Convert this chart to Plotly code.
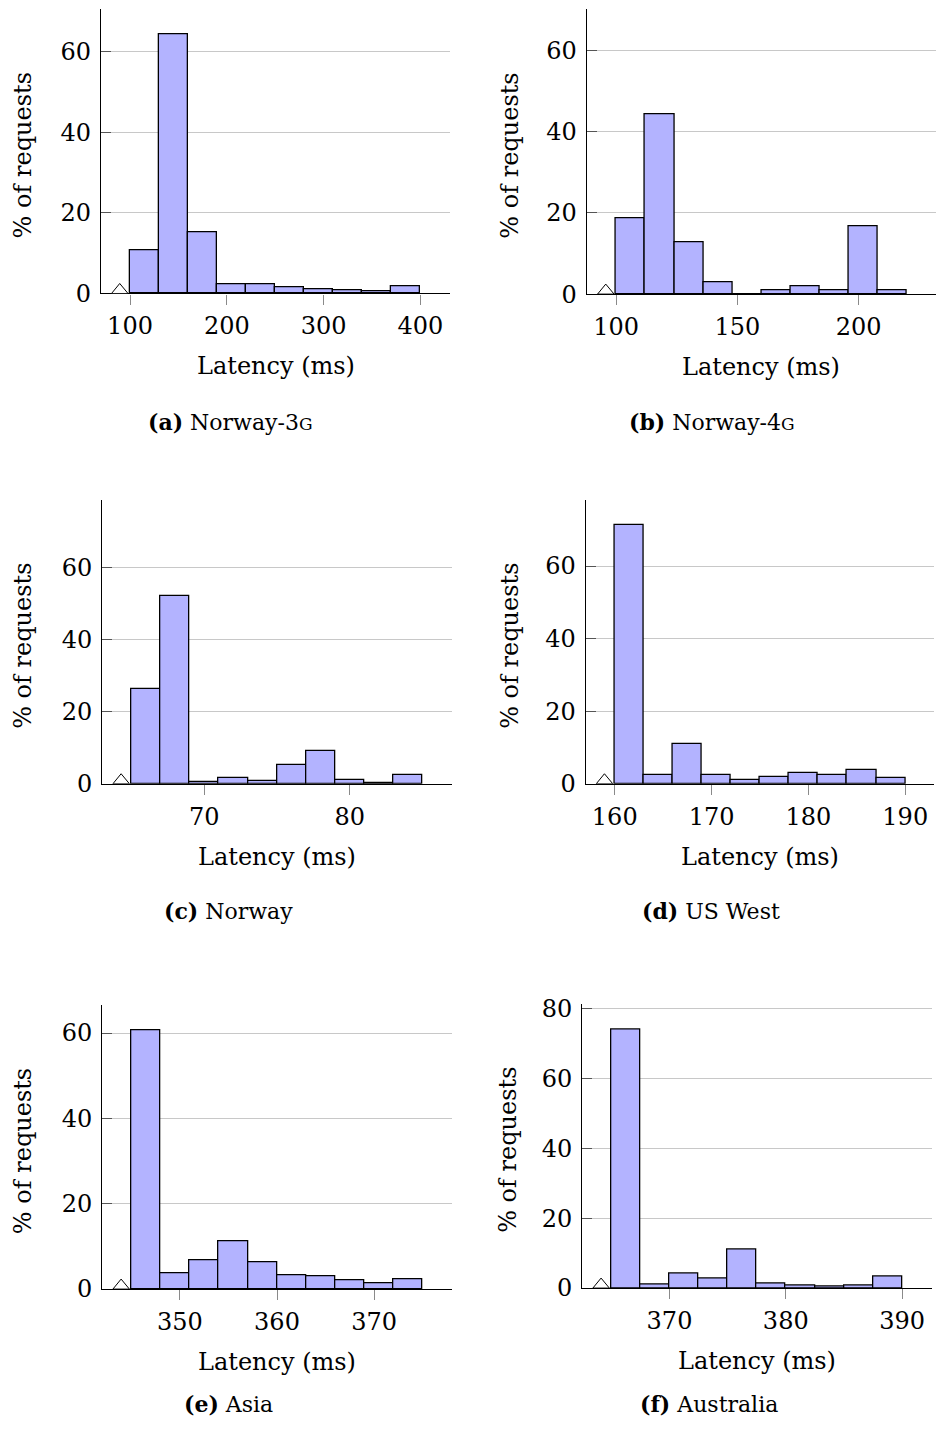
import numpy as np
import plotly.graph_objects as go

W, H = 938, 1431
FONT = "DejaVu Serif"

# ---- data (percent of requests per latency bin) ----
names = ["a", "b", "c", "d", "e", "f"]
captions = ["Norway-3G", "Norway-4G", "Norway", "US West", "Asia", "Australia"]
bin_start = [100, 100, 65, 160, 345, 365]
bin_width = [30, 12, 2, 3, 3, 2.5]
vals_a = [10.75, 64.3, 15.2, 2.4, 2.4, 1.66, 1.1, 0.84, 0.5, 1.74]
vals_b = [18.7, 44.2, 12.8, 2.95, 0, 1.0, 1.97, 1.0, 16.7, 1.0]
vals_c = [26.35, 52.2, 0.46, 1.55, 0.83, 5.35, 9.15, 1.1, 0.28, 2.58]
vals_d = [71.4, 2.48, 10.9, 2.3, 1.18, 1.83, 3.1, 2.48, 3.67, 1.73]
vals_e = [60.7, 3.8, 6.7, 11.2, 6.25, 3.2, 3.04, 2.03, 1.25, 2.27]
vals_f = [74.0, 1.14, 4.1, 2.77, 11.07, 1.34, 0.76, 0.38, 0.67, 3.24]
values = [vals_a, vals_b, vals_c, vals_d, vals_e, vals_f]
x_ticks = [[100, 200, 300, 400], [100, 150, 200], [70, 80],
           [160, 170, 180, 190], [350, 360, 370], [370, 380, 390]]
y_ticks = [[0, 20, 40, 60]] * 5 + [[0, 20, 40, 60, 80]]

# ---- layout ----
x_rng = [[70, 430.6], [87.9, 231.9], [63, 87], [157, 193], [342, 378], [362.5, 392.55]]
y_max = [70.5, 70.1, 78.8, 78.2, 66.5, 81.4]
# target positions in the photographed page (px): left, right, top, bottom
dom_px = [
    (101, 450, 8.3, 292.7),
    (586.7, 936, 8.3, 293.3),
    (102.3, 451.7, 499.3, 783.3),
    (585.7, 934.3, 499.3, 783.3),
    (102.3, 451.7, 1005, 1289),
    (582.3, 931.7, 1003.3, 1288),
]
ytitle_x = [23, 510, 23, 510, 23, 508]
caption_x = [230, 712, 228, 711, 228, 709]
caption_y = [421, 421, 911, 911, 1416.5, 1416.5]

# the photographed page shows the figure vertically at 8 .. 1417 px
PHOTO_TOP, PHOTO_H = 8.0, 1409.0


def py(y_img):
    """paper fraction for a target vertical position in the photo."""
    y_fig = (y_img - PHOTO_TOP) * H / PHOTO_H
    return 1 - y_fig / H


BAR_FILL = "#b3b3ff"

fig = go.Figure()
annotations = []
shapes = []

for i in range(6):
    k = "" if i == 0 else str(i + 1)
    xa, ya = "x" + k, "y" + k
    v = np.array(values[i])
    centers = bin_start[i] + bin_width[i] * (np.arange(len(v)) + 0.5)
    fig.add_trace(go.Bar(
        x=centers, y=v, width=bin_width[i], xaxis=xa, yaxis=ya,
        marker=dict(color=BAR_FILL, line=dict(color="black", width=1.3)),
        showlegend=False, hoverinfo="x+y",
    ))
    l, r, t, b = dom_px[i]
    fig.layout["xaxis" + k] = dict(
        domain=[l / W, r / W], range=x_rng[i], anchor=ya,
        tickvals=x_ticks[i], ticks="outside", ticklen=10, tickwidth=1,
        tickcolor="#8a8a8a", showgrid=False, zeroline=False,
        showline=True, linecolor="black", linewidth=1.3,
        tickfont=dict(family=FONT, size=24, color="black"),
        ticklabelstandoff=1,
    )
    fig.layout["yaxis" + k] = dict(
        domain=[max(py(b), 0), min(py(t), 1)], range=[0, y_max[i]], anchor=xa,
        tickvals=y_ticks[i], ticks="inside", ticklen=10, tickwidth=1,
        tickcolor="#555555", showgrid=True, gridcolor="#c8c8c8", gridwidth=1,
        zeroline=False, showline=True, linecolor="black", linewidth=1.3,
        tickfont=dict(family=FONT, size=24, color="black"),
        ticklabelstandoff=4,
    )
    # axis-break mark on the x axis, left of the first bin
    shapes.append(dict(
        type="path", xref=xa, yref=ya,
        xsizemode="pixel", ysizemode="pixel",
        xanchor=bin_start[i], yanchor=0,
        path="M -18.5,0 L -10.3,10 L -2,0 Z",
        fillcolor="white", line=dict(color="black", width=1), layer="above",
    ))
    annotations.append(dict(
        text="Latency (ms)", xref="paper", yref="paper",
        x=((l + r) / 2) / W, y=py(b + 73),
        showarrow=False, xanchor="center", yanchor="middle",
        font=dict(family=FONT, size=24, color="black"),
    ))
    annotations.append(dict(
        text="% of requests", xref="paper", yref="paper",
        x=ytitle_x[i] / W, y=py((t + b) / 2 + 4), textangle=-90,
        showarrow=False, xanchor="center", yanchor="middle",
        font=dict(family=FONT, size=24, color="black"),
    ))
    cap = captions[i]
    if cap.endswith("G") and "-" in cap:
        cap_html = cap[:-1] + "<span style='font-size:17px'>G</span>"
    else:
        cap_html = cap
    # keep the bottom captions fully inside the page
    cap_p = max(py(caption_y[i]), 13.0 / H)
    annotations.append(dict(
        text="<b>(" + names[i] + ")</b> " + cap_html,
        xref="paper", yref="paper",
        x=caption_x[i] / W, y=cap_p,
        showarrow=False, xanchor="center", yanchor="middle",
        font=dict(family=FONT, size=22, color="black"),
    ))

fig.update_layout(
    width=W, height=H, margin=dict(l=0, r=0, t=0, b=0),
    paper_bgcolor="white", plot_bgcolor="white",
    bargap=0, annotations=annotations, shapes=shapes,
    showlegend=False,
)

fig.write_html("out.html")
